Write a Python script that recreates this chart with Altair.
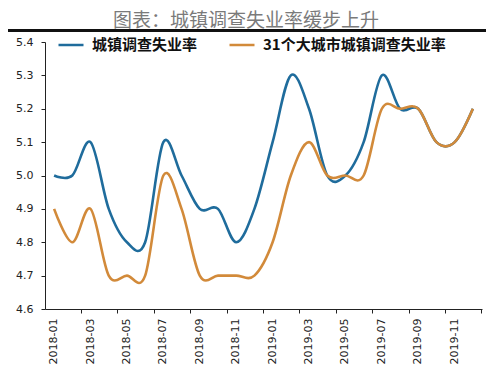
import altair as alt
import pandas as pd

months = ["2018-01", "2018-02", "2018-03", "2018-04", "2018-05", "2018-06",
          "2018-07", "2018-08", "2018-09", "2018-10", "2018-11", "2018-12",
          "2019-01", "2019-02", "2019-03", "2019-04", "2019-05", "2019-06",
          "2019-07", "2019-08", "2019-09", "2019-10", "2019-11", "2019-12"]
national = [5.0, 5.0, 5.1, 4.9, 4.8, 4.8, 5.1, 5.0, 4.9, 4.9, 4.8, 4.9,
            5.1, 5.3, 5.2, 5.0, 5.0, 5.1, 5.3, 5.2, 5.2, 5.1, 5.1, 5.2]
cities31 = [4.9, 4.8, 4.9, 4.7, 4.7, 4.7, 5.0, 4.9, 4.7, 4.7, 4.7, 4.7,
            4.8, 5.0, 5.1, 5.0, 5.0, 5.0, 5.2, 5.2, 5.2, 5.1, 5.1, 5.2]
series_names = ["城镇调查失业率", "31个大城市城镇调查失业率"]
series_colors = ["#1f6c9c", "#d28a3a"]
y_ticks = [4.6, 4.7, 4.8, 4.9, 5.0, 5.1, 5.2, 5.3, 5.4]
title_text = "图表：城镇调查失业率缓步上升"

df = pd.DataFrame({
    "month": months * 2,
    "series": [series_names[0]] * len(months) + [series_names[1]] * len(months),
    "value": national + cities31,
})

axis_font = "DejaVu Sans"
cjk = "Noto Sans CJK SC"
xscale = alt.Scale(type="band", paddingInner=0, paddingOuter=0, domain=months)
yscale = alt.Scale(domain=[4.6, 5.4], nice=False, zero=False)

lines = alt.Chart(df).mark_line(strokeWidth=2.6, interpolate="cardinal", tension=0).encode(
    x=alt.X("month:N", scale=xscale, sort=months,
            axis=alt.Axis(values=months[::2], ticks=False, labelAngle=-90,
                          labelAlign="right", labelBaseline="middle",
                          labelPadding=9, labelFont=axis_font, labelFontSize=11,
                          labelColor="#222", domainColor="#222", domainWidth=1,
                          title=None, orient="bottom", bandPosition=0.5)),
    y=alt.Y("value:Q", scale=yscale,
            axis=alt.Axis(values=y_ticks, format=".1f", grid=False, tickSize=4,
                          labelPadding=8, labelFont=axis_font, labelFontSize=11,
                          labelColor="#222", domainColor="#222", tickColor="#222",
                          title=None)),
    color=alt.Color("series:N",
                    scale=alt.Scale(domain=series_names, range=series_colors),
                    legend=alt.Legend(title=None, orient="none", legendX=12, legendY=-11,
                                      direction="horizontal", symbolType="stroke",
                                      symbolSize=625, symbolStrokeWidth=2.5,
                                      labelFont=cjk, labelFontSize=15, labelLimit=400,
                                      labelFontWeight="bold", labelColor="#111",
                                      labelOffset=7, columnPadding=26)),
    detail="series:N",
)

ticks_layer = alt.Chart(df).mark_point(opacity=0).encode(
    x=alt.X("month:N", scale=xscale, sort=months,
            axis=alt.Axis(values=months[1::2], labels=False, ticks=True, tickSize=4,
                          tickColor="#222", domain=False, title=None,
                          orient="bottom", bandPosition=1)),
    y=alt.value(0),
)

rule = alt.Chart(pd.DataFrame({"t": [title_text]})).mark_rule(
    color="#111", strokeWidth=3
).encode(x=alt.value(-37), x2=alt.value(443), y=alt.value(-11.5))

title = alt.Chart(pd.DataFrame({"t": [title_text]})).mark_text(
    font="DejaVu Sans, Noto Sans CJK SC", fontSize=19, color="#7a7a7a",
    align="center", baseline="middle"
).encode(text="t:N", x=alt.value(201), y=alt.value(-21))

chart = alt.layer(lines, ticks_layer, rule, title).resolve_axis(
    x="independent"
).properties(
    width=437, height=267,
    autosize=alt.AutoSizeParams(type="none"),
    padding={"left": 37, "top": 34, "right": 4, "bottom": 58},
    background="white",
).configure_view(stroke=None)

chart.save("out.html", embed_options={"renderer": "svg", "actions": False})
